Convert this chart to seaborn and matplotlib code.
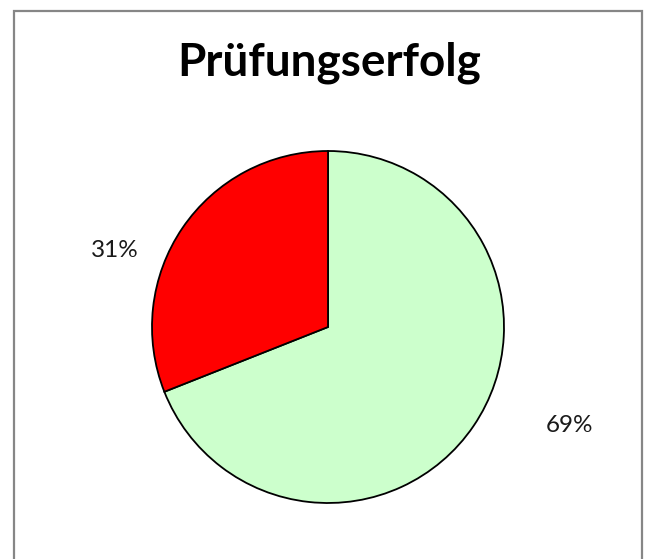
import matplotlib
matplotlib.use("Agg")
import matplotlib.pyplot as plt
from matplotlib.patches import Rectangle
import seaborn as sns

title = "Prüfungserfolg"
categories = ["bestanden", "nicht bestanden"]
shares = [69, 31]
colors = ["#ccffcc", "#ff0000"]

sns.set_theme(style="white")
plt.rcParams['font.family'] = ['Lato', 'DejaVu Sans']

W, H = 649, 559
fig = plt.figure(figsize=(W / 100, H / 100), dpi=100)
fig.patch.set_facecolor("white")

# chart area border (bottom edge runs off the picture)
fig.patches.append(Rectangle((14 / W, -0.02), (642 - 14) / W, (H - 11) / H + 0.02,
                             transform=fig.transFigure, fill=False,
                             edgecolor="#868686", linewidth=1.6, zorder=0))

# pie: centre (328, 327), radius 176 px
cx, cy, r = 328, 327, 176
ax = fig.add_axes([(cx - r) / W, (H - cy - r) / H, 2 * r / W, 2 * r / H])
ax.pie(shares, colors=colors, startangle=90, counterclock=False,
       wedgeprops=dict(edgecolor="black", linewidth=1.3))
ax.set_xlim(-1, 1)
ax.set_ylim(-1, 1)
ax.set_aspect("equal")
ax.axis("off")

# percentage labels, placed like the spreadsheet does
label_pos = [(569.5, 425), (114.5, 251)]
for val, (px, py) in zip(shares, label_pos):
    fig.text(px / W, 1 - py / H, f"{val}%", ha="center", va="center",
             fontsize=17.5, color="#1a1a1a")

fig.text(329 / W, 1 - 63 / H, title, ha="center", va="center",
         fontsize=33, fontweight="bold", color="black")

fig.savefig("out.png", dpi=100)
